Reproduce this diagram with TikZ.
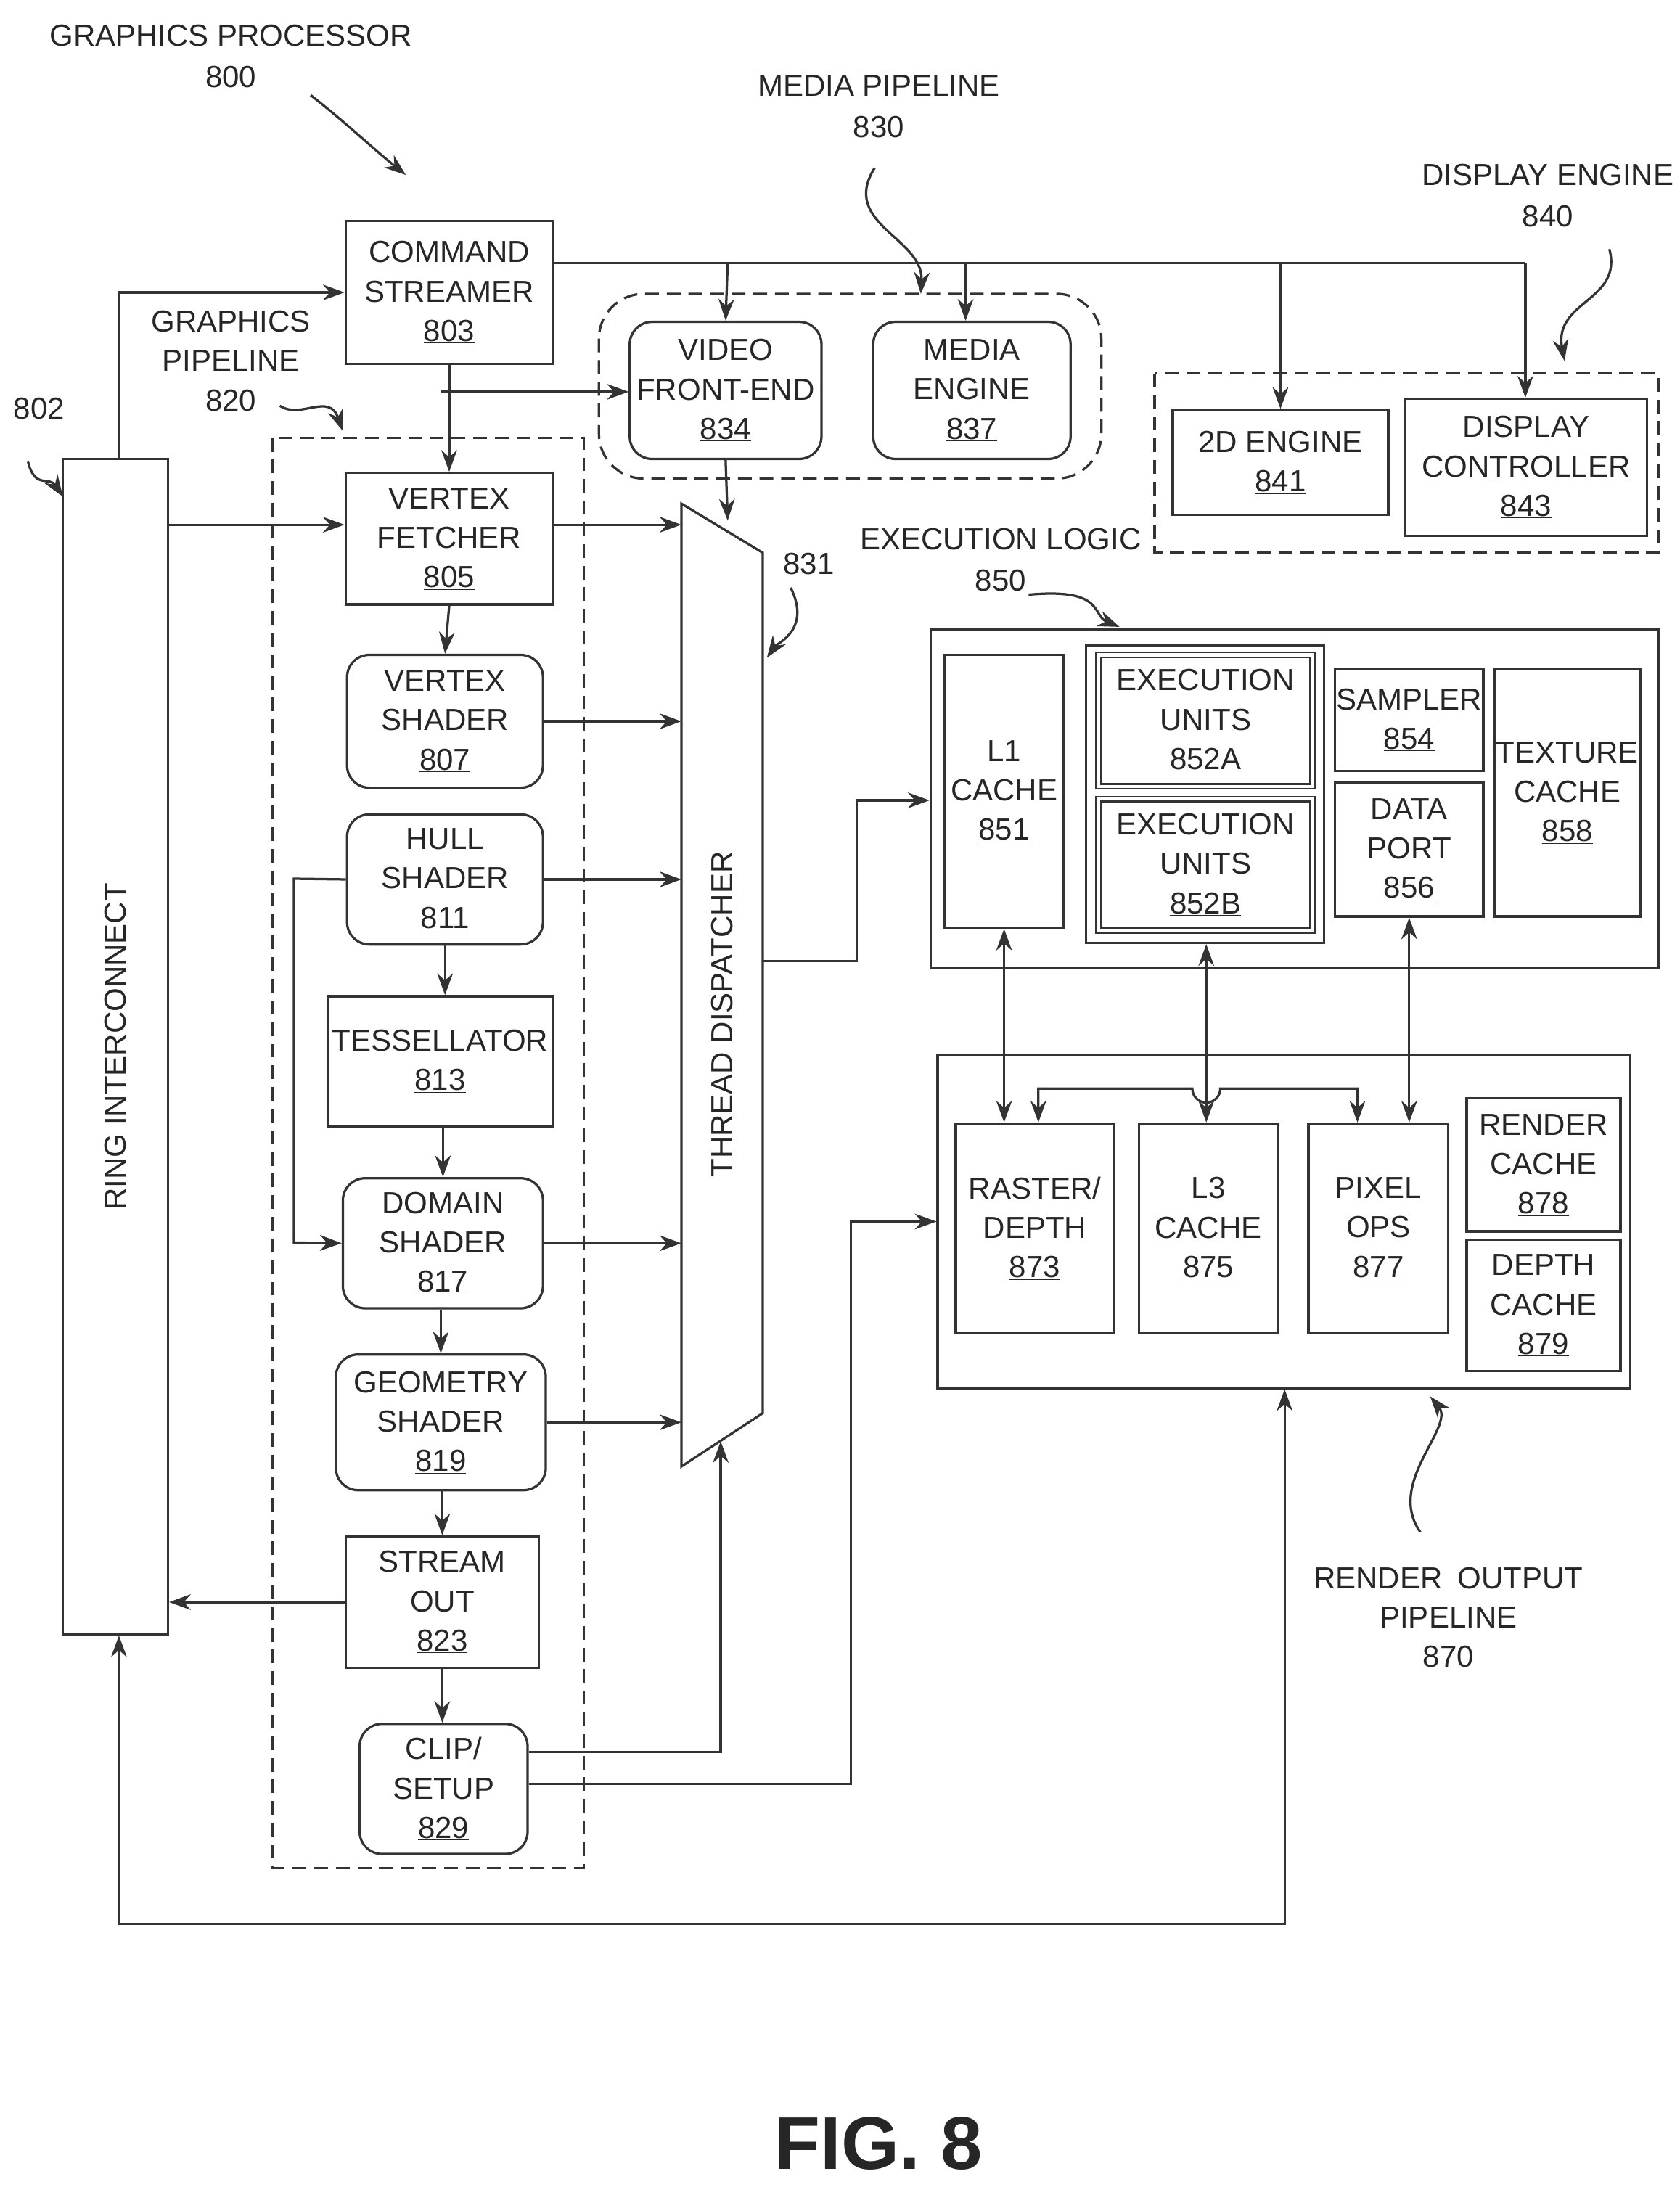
\documentclass[tikz,border=0pt]{standalone}
\usepackage{fontspec}
\setmainfont{Liberation Sans}
\usetikzlibrary{arrows.meta}
\newcommand\bx[7]{\node[#6, minimum width={(#4-#2)*0.05cm}, minimum height={(#5-#3)*0.05cm}] (#1) at ({(#2+#4)/2},{(#3+#5)/2}) {#7};}
\begin{document}
\begin{tikzpicture}[x=0.05cm,y=-0.05cm,
  every node/.style={font=\fontsize{31}{40}\selectfont, text=black!85},
  ln/.style={line width=2.4pt, draw=black!80},
  box/.style={ln, draw, align=center, inner sep=0pt},
  rbox/.style={box, rounded corners=0.8cm},
  dbox/.style={box, double, double distance=3pt, line width=1.8pt},
  grp/.style={ln, dash pattern=on 14pt off 8pt},
  ar/.style={ln, -{Stealth[length=22pt,width=16pt]}},
  dar/.style={ln, {Stealth[length=22pt,width=16pt]}-{Stealth[length=22pt,width=16pt]}},
  lab/.style={align=center}]
\useasboundingbox (0,0) rectangle (1200,1563);
% dashed groups
\draw[grp] (195,313) rectangle (417,1335);
\draw[grp, rounded corners=1.6cm] (428,210) rectangle (787,342);
\draw[grp] (825,267) rectangle (1185,395);
% boxes
\bx{ring}{45}{328}{120}{1168}{box}{}
\node[rotate=90] at (ring.center) {RING INTERCONNECT};
\bx{cs}{247}{158}{395}{260}{box}{COMMAND\\STREAMER\\\underline{803}}
\bx{vf}{247}{338}{395}{432}{box}{VERTEX\\FETCHER\\\underline{805}}
\bx{vs}{248}{468}{388}{563}{rbox}{VERTEX\\SHADER\\\underline{807}}
\bx{hs}{248}{582}{388}{675}{rbox}{HULL\\SHADER\\\underline{811}}
\bx{te}{234}{712}{395}{805}{box}{TESSELLATOR\\\underline{813}}
\bx{ds}{245}{842}{388}{935}{rbox}{DOMAIN\\SHADER\\\underline{817}}
\bx{gs}{240}{968}{390}{1065}{rbox}{GEOMETRY\\SHADER\\\underline{819}}
\bx{so}{247}{1098}{385}{1192}{box}{STREAM\\OUT\\\underline{823}}
\bx{cl}{257}{1232}{377}{1325}{rbox}{CLIP/\\SETUP\\\underline{829}}
\bx{vfe}{450}{230}{587}{328}{rbox}{VIDEO\\FRONT-END\\\underline{834}}
\bx{me}{624}{230}{765}{328}{rbox}{MEDIA\\ENGINE\\\underline{837}}
\bx{td}{487}{360}{545}{1048}{inner sep=0pt}{}
\draw[ln] (487,360) -- (545,395) -- (545,1010) -- (487,1048) -- cycle;
\node[rotate=90] at (516,725) {THREAD DISPATCHER};
\bx{e2d}{838}{293}{992}{368}{box}{2D ENGINE\\\underline{841}}
\bx{dc}{1004}{285}{1177}{383}{box}{DISPLAY\\CONTROLLER\\\underline{843}}
\bx{el}{665}{450}{1185}{692}{box}{}
\bx{l1}{675}{468}{760}{663}{box}{L1\\CACHE\\\underline{851}}
\bx{eu}{776}{461}{946}{674}{box}{}
\bx{eua}{785}{468}{938}{562}{dbox}{EXECUTION\\UNITS\\\underline{852A}}
\bx{eub}{785}{571}{938}{665}{dbox}{EXECUTION\\UNITS\\\underline{852B}}
\bx{sa}{954}{478}{1060}{551}{box}{SAMPLER\\\underline{854}}
\bx{dp}{954}{559}{1060}{655}{box}{DATA\\PORT\\\underline{856}}
\bx{tc}{1068}{478}{1172}{655}{box}{TEXTURE\\CACHE\\\underline{858}}
\bx{ro}{670}{754}{1165}{992}{box}{}
\bx{rd}{683}{803}{796}{953}{box}{RASTER/\\DEPTH\\\underline{873}}
\bx{l3}{814}{803}{913}{953}{box}{L3\\CACHE\\\underline{875}}
\bx{po}{935}{803}{1035}{953}{box}{PIXEL\\OPS\\\underline{877}}
\bx{rc}{1048}{785}{1158}{880}{box}{RENDER\\CACHE\\\underline{878}}
\bx{dcc}{1048}{886}{1158}{980}{box}{DEPTH\\CACHE\\\underline{879}}
% labels
\node[lab] (lgp) at (165,40) {GRAPHICS PROCESSOR\\[2pt]800};
\node[lab] (lmp) at (628,76) {MEDIA PIPELINE\\[2pt]830};
\node[lab] (lde) at (1106,140) {DISPLAY ENGINE\\[2pt]840};
\node[lab] (lgpl) at (165,258) {GRAPHICS\\PIPELINE\\820};
\node (l802) at (28,292) {802};
\node (l831) at (578,403) {831};
\node[lab] (lel) at (715,400) {EXECUTION LOGIC\\[2pt]850};
\node[lab] (lro) at (1035,1156) {RENDER\enspace OUTPUT\\PIPELINE\\870};
\node[font=\bfseries\fontsize{76}{90}\selectfont] (fig) at (628,1532) {FIG. 8};
% squiggles
\draw[ar] (222,68) .. controls (250,90) and (265,105) .. (290,125);
\draw[ar] (625,120) .. controls (600,160) and (660,170) .. (658,210);
\draw[ar] (1150,178) .. controls (1160,215) and (1110,215) .. (1118,258);
\draw[ar] (200,290) .. controls (215,300) and (235,280) .. (245,308);
\draw[ar] (20,330) .. controls (25,350) and (35,340) .. (45,355);
\draw[ar] (565,420) .. controls (580,450) and (555,460) .. (548,470);
\draw[ar] (735,425) .. controls (790,420) and (780,440) .. (800,448);
\draw[ar] (1015,1095) .. controls (990,1060) and (1040,1020) .. (1022,998);
% connectors
\draw[ar] (ring.north -| 85,0) |- (cs.west);
\draw[ar] (cs.south) -- (vf.north);
\draw[ar] (315,280) -- (vfe.west |- 0,280);
\draw[ln] (395,188) -- (1090,188);
\draw[ar] (520,188) -- (vfe.north);
\draw[ar] (690,188) -- (me.north -| 690,0);
\draw[ar] (915,188) -- (e2d.north -| 915,0);
\draw[ar] (1090,188) -- (dc.north -| 1090,0);
\draw[ar] (ring.east |- 0,375) -- (vf.west |- 0,375);
\draw[ar] (vf.east |- 0,375) -- (td.west |- 0,375);
\draw[ar] (vfe.south) -- (520,372);
\draw[ar] (vf.south) -- (vs.north);
\draw[ar] (vs.east) -- (td.west |- vs.east);
\draw[ar] (hs.east) -- (td.west |- hs.east);
\draw[ar] (hs.south) -- (te.north -| hs.south);
\draw[ar] (te.south -| ds.north) -- (ds.north);
\draw[ar] (ds.south -| gs.north) -- (gs.north);
\draw[ar] (gs.south -| so.north) -- (so.north);
\draw[ar] (so.south) -- (cl.north -| so.south);
\draw[ar] (hs.west) -- (210,628) -- (210,888) -- (ds.west);
\draw[ar] (ds.east) -- (td.west |- ds.east);
\draw[ar] (gs.east) -- (td.west |- gs.east);
\draw[ar] (so.west) -- (ring.east |- so.west);
\draw[ar] (cl.east |- 0,1252) -- (515,1252) -- (515,1030);
\draw[ar] (cl.east |- 0,1275) -- (608,1275) -- (608,873) -- (ro.west |- 0,873);
\draw[ar] (td.east |- 0,687) -- (612,687) -- (612,572) -- (el.west |- 0,572);
\draw[dar] (ro.south -| 918,0) -- (918,1375) -- (85,1375) -- (ring.south -| 85,0);
\draw[dar] (l1.south) -- (rd.north -| l1.south);
\draw[dar] (eu.south -| 862,0) -- (l3.north -| 862,0);
\draw[dar] (dp.south) -- (po.north -| dp.south);
\draw[dar] (rd.north -| 742,0) -- (742,778) -- (852,778) arc (180:0:10) -- (970,778) -- (po.north -| 970,0);
\end{tikzpicture}
\end{document}
